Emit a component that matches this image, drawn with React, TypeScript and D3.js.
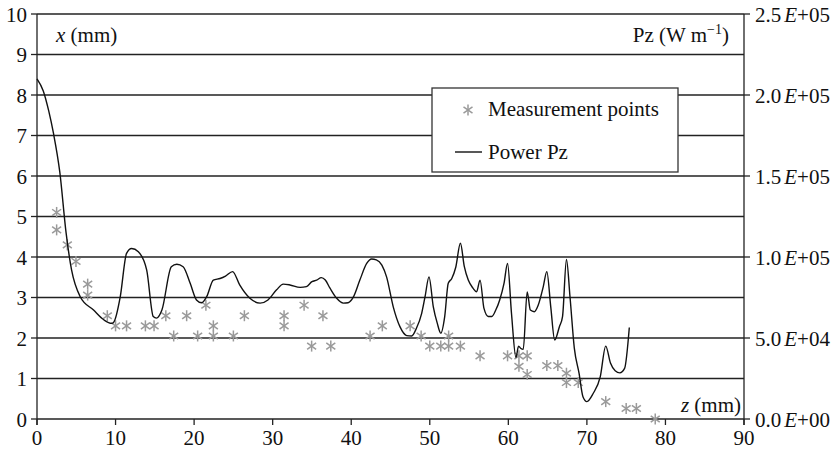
import React from "react";
import * as d3 from "d3";

// Measurement points: z (mm), x (mm)
const measZ = [2.5, 2.5, 3.86, 4.96, 6.45, 6.45, 8.95, 10.0, 11.4, 13.8, 14.9, 16.4, 17.4, 19.05, 20.45, 21.5, 22.45, 22.45, 25.0, 26.4, 31.45, 31.45, 34.0, 34.96, 36.4, 37.4, 42.4, 43.96, 47.5, 48.9, 50.0, 51.4, 52.4, 52.4, 53.9, 56.4, 59.9, 61.35, 61.35, 62.4, 62.4, 64.9, 66.3, 67.4, 67.4, 68.9, 72.4, 75.0, 76.3, 78.7];
const measX = [5.1, 4.67, 4.3, 3.89, 3.33, 3.06, 2.55, 2.3, 2.3, 2.3, 2.3, 2.55, 2.05, 2.55, 2.05, 2.81, 2.3, 2.05, 2.05, 2.55, 2.55, 2.3, 2.81, 1.8, 2.55, 1.8, 2.05, 2.3, 2.3, 2.05, 1.8, 1.8, 2.05, 1.8, 1.8, 1.56, 1.56, 1.56, 1.3, 1.56, 1.1, 1.32, 1.32, 1.13, 0.9, 0.9, 0.43, 0.26, 0.26, 0.0];

// Power Pz: z (mm), Pz (W/m)
const powerZ = [0.0, 0.8, 1.5, 2.1, 2.9, 3.7, 4.4, 5.5, 7.2, 8.5, 9.5, 9.8, 10.6, 11.4, 12.05, 12.9, 13.96, 14.8, 15.2, 15.9, 17.1, 17.8, 18.6, 19.5, 20.3, 20.96, 21.6, 22.45, 23.3, 24.0, 24.9, 25.8, 27.1, 28.4, 29.4, 30.5, 31.35, 32.2, 33.5, 34.3, 35.0, 35.6, 36.2, 36.7, 37.3, 38.15, 39.0, 39.6, 40.3, 41.1, 41.97, 42.6, 43.2, 43.9, 44.5, 45.35, 46.2, 47.06, 47.7, 48.3, 48.97, 49.4, 49.9, 50.45, 50.96, 51.4, 51.9, 52.35, 52.8, 53.3, 53.9, 54.4, 54.9, 55.5, 55.96, 56.4, 56.9, 57.45, 57.9, 58.4, 58.9, 59.45, 59.9, 60.4, 60.97, 61.3, 61.6, 61.9, 62.4, 62.8, 63.3, 63.8, 64.45, 64.9, 65.4, 65.9, 66.5, 66.9, 67.4, 67.85, 68.4, 69.0, 69.5, 70.0, 70.8, 71.7, 72.4, 73.0, 73.6, 74.2, 74.8, 75.4];
const powerP = [210000, 202500, 190000, 176250, 152500, 115000, 92000, 75500, 67250, 61250, 59000, 60000, 75500, 102250, 105250, 103250, 92000, 63250, 62250, 67250, 94000, 95500, 94000, 83750, 73500, 71750, 75500, 85750, 86750, 88250, 91000, 82750, 74500, 71500, 73500, 79750, 83250, 82750, 81250, 81750, 84750, 85750, 87250, 85750, 80750, 74500, 71500, 71750, 75500, 85750, 96000, 98750, 98250, 95000, 87750, 69250, 57000, 51500, 51250, 56000, 65250, 75500, 87750, 69250, 59000, 53000, 63250, 83750, 86750, 93500, 108500, 94000, 85750, 80750, 78500, 85750, 68250, 63250, 63250, 67250, 73500, 83750, 96000, 65250, 38000, 45000, 43500, 43000, 78500, 67250, 66250, 70250, 81750, 91000, 69250, 48750, 57000, 63250, 98500, 75500, 43750, 28250, 13750, 10750, 15750, 26000, 45000, 34500, 29750, 28500, 31250, 56500];

const xTicks = [0, 10, 20, 30, 40, 50, 60, 70, 80, 90];
const yLeftTicks = [0, 1, 2, 3, 4, 5, 6, 7, 8, 9, 10];
const yRightTicks = [0, 50000, 100000, 150000, 200000, 250000];
const yRightLabels = ["0.0", "5.0", "1.0", "1.5", "2.0", "2.5"];
const yRightExp = ["+00", "+04", "+05", "+05", "+05", "+05"];

const W = 835;
const H = 451;
const FONT = '"Liberation Serif", "DejaVu Serif", serif';

function Asterisk({ cx, cy, color }: { cx: number; cy: number; color: string }) {
  const a = 4.5;
  const b = 3.2;
  return (
    <g stroke={color} strokeWidth={1.5} fill="none">
      <line x1={cx} y1={cy - 5.5} x2={cx} y2={cy + 5.5} />
      <line x1={cx - a} y1={cy - b} x2={cx + a} y2={cy + b} />
      <line x1={cx - a} y1={cy + b} x2={cx + a} y2={cy - b} />
    </g>
  );
}

export default function App() {
  const x = d3.scaleLinear().domain([0, 90]).range([37, 744]);
  const yL = d3.scaleLinear().domain([0, 10]).range([419, 14]);
  const yR = d3.scaleLinear().domain([0, 250000]).range([419, 14]);

  const lineGen = d3
    .line<number>()
    .x((_, i) => x(powerZ[i]))
    .y((d) => yR(d))
    .curve(d3.curveMonotoneX);
  const path = lineGen(powerP) || "";

  const gridColor = "#222";
  const markerColor = "#9a9a9a";

  return (
    <svg
      width={W}
      height={H}
      style={{ position: "absolute", left: 0, top: 0, background: "#fff", fontFamily: FONT, fontSize: 21 }}
    >
      <rect x={0} y={0} width={W} height={H} fill="#fff" />
      {/* horizontal gridlines */}
      {yLeftTicks.map((t) => (
        <line key={"g" + t} x1={x(0)} x2={x(90)} y1={yL(t)} y2={yL(t)} stroke={gridColor} strokeWidth={1.3} />
      ))}
      {/* left axis */}
      <line x1={x(0)} x2={x(0)} y1={yL(10)} y2={yL(0) + 6} stroke={gridColor} strokeWidth={1.3} />
      {yLeftTicks.map((t) => (
        <g key={"lt" + t}>
          <line x1={x(0) - 6} x2={x(0)} y1={yL(t)} y2={yL(t)} stroke={gridColor} strokeWidth={1.3} />
          <text x={27} y={yL(t) + 7.5} textAnchor="end" fill="#111">
            {t}
          </text>
        </g>
      ))}
      {/* right axis */}
      <line x1={x(90)} x2={x(90)} y1={yR(250000)} y2={yR(0) + 6} stroke={gridColor} strokeWidth={1.3} />
      {yRightTicks.map((t, i) => (
        <g key={"rt" + t}>
          <line x1={x(90)} x2={x(90) + 6} y1={yR(t)} y2={yR(t)} stroke={gridColor} strokeWidth={1.3} />
          <text x={755} y={yR(t) + 7.5} fill="#111">
            {yRightLabels[i]}
            <tspan dx={3} fontStyle="italic">E</tspan>
            {yRightExp[i]}
          </text>
        </g>
      ))}
      {/* bottom ticks */}
      {xTicks.map((t) => (
        <g key={"xt" + t}>
          <line x1={x(t)} x2={x(t)} y1={yL(0)} y2={yL(0) + 6} stroke={gridColor} strokeWidth={1.3} />
          <text x={x(t)} y={445} textAnchor="middle" fill="#111">
            {t}
          </text>
        </g>
      ))}

      {/* measurement points */}
      {measZ.map((z, i) => (
        <Asterisk key={"m" + i} cx={x(z)} cy={yL(measX[i])} color={markerColor} />
      ))}

      {/* power line */}
      <path d={path} fill="none" stroke="#111" strokeWidth={1.4} />

      {/* axis titles */}
      <text x={56} y={42} fill="#111">
        <tspan fontStyle="italic">x</tspan> (mm)
      </text>
      <text x={729} y={42} textAnchor="end" fill="#111">
        Pz (W m<tspan fontSize={14} dy={-8}>−1</tspan>
        <tspan dy={8}>)</tspan>
      </text>
      <text x={741} y={412} textAnchor="end" fill="#111">
        <tspan fontStyle="italic">z</tspan> (mm)
      </text>

      {/* legend */}
      <rect x={432} y={88} width={246} height={84} fill="#fff" stroke="#333" strokeWidth={1.3} />
      <Asterisk cx={468} cy={110} color={markerColor} />
      <text x={488} y={116} fill="#111">
        Measurement points
      </text>
      <line x1={455} x2={482} y1={152} y2={152} stroke="#111" strokeWidth={1.4} />
      <text x={488} y={159} fill="#111">
        Power Pz
      </text>
    </svg>
  );
}
